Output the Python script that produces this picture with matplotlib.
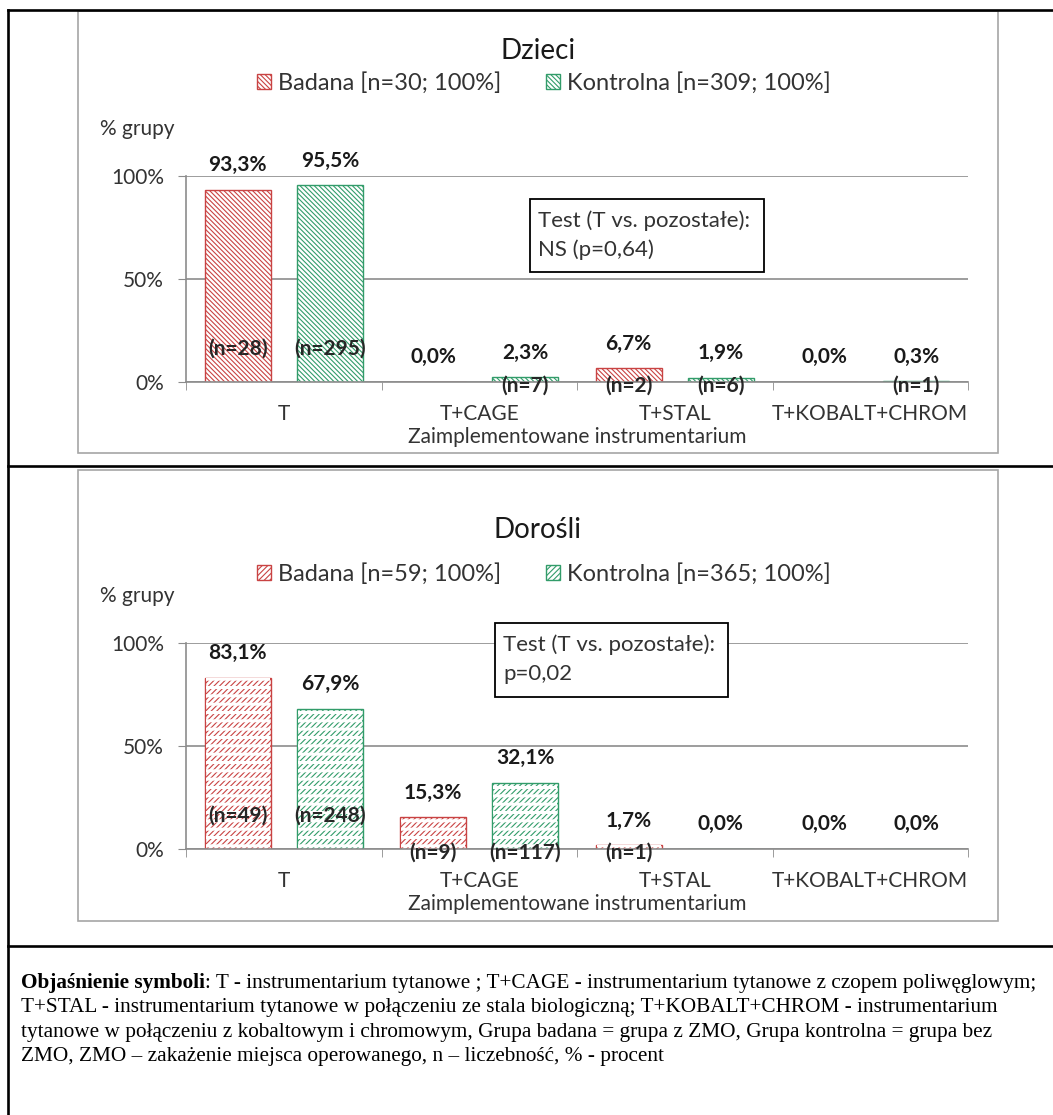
import matplotlib.pyplot as plt
from matplotlib.patches import Rectangle
from matplotlib.lines import Line2D
import numpy as np

# Dane: odsetek pacjentów wg zaimplementowanego instrumentarium
categories = ['T', 'T+CAGE', 'T+STAL', 'T+KOBALT+CHROM']

dzieci_badana = [93.3, 0.0, 6.7, 0.0]
dzieci_kontrolna = [95.5, 2.3, 1.9, 0.3]
dzieci_badana_n = [28, 0, 2, 0]
dzieci_kontrolna_n = [295, 7, 6, 1]

dorosli_badana = [83.1, 15.3, 1.7, 0.0]
dorosli_kontrolna = [67.9, 32.1, 0.0, 0.0]
dorosli_badana_n = [49, 9, 1, 0]
dorosli_kontrolna_n = [248, 117, 0, 0]

yticks = [0, 50, 100]
ytick_labels = ['0%', '50%', '100%']

footnote_bold = 'Objaśnienie symboli'
footnote_lines = [
    ': T - instrumentarium tytanowe ; T+CAGE - instrumentarium tytanowe z czopem poliwęglowym;',
    'T+STAL - instrumentarium tytanowe w połączeniu ze stala biologiczną; T+KOBALT+CHROM - instrumentarium',
    'tytanowe w połączeniu z kobaltowym i chromowym, Grupa badana = grupa z ZMO, Grupa kontrolna = grupa bez',
    'ZMO, ZMO – zakażenie miejsca operowanego, n – liczebność, % - procent',
]

W, H = 1053, 1115
RED = '#C94343'
GREEN = '#329C6A'
GRAY = '#8C8C8C'
FONT = 'Lato'

plt.rcParams['font.family'] = FONT
plt.rcParams['hatch.linewidth'] = 0.8

fig = plt.figure(figsize=(W / 100, H / 100), dpi=100)


def fx(px):
    return px / W


def fy(py):
    return 1 - py / H


def fmt(v):
    return f'{v:.1f}%'.replace('.', ',')


# ramki tabeli
for xs, ys in [([8, W], [10, 10]), ([8, 8], [10, H]),
               ([8, W], [466, 466]), ([8, W], [946, 946])]:
    fig.add_artist(Line2D([fx(x) for x in xs], [fy(y) for y in ys],
                          color='black', lw=1.9, zorder=5))


def panel(frame, y100, title_y, leg_y, title, badana, kontrolna, badana_n, kontrolna_n,
          leg_labels, hatch, dashed, test_lines, box):
    # obszar wykresu (ramka Excela)
    ftop, fbot = frame
    fig.add_artist(Rectangle((fx(78), fy(fbot)), fx(998) - fx(78),
                             fy(ftop) - fy(fbot), transform=fig.transFigure,
                             fc='white', ec='#A6A6A6', lw=1.2, zorder=0))
    y0 = y100 + 206
    ax = fig.add_axes([fx(186), fy(y0), fx(968) - fx(186), fy(y100) - fy(y0)])
    x = np.arange(len(categories))
    off, w = 0.236, 0.338
    b1 = ax.bar(x - off, badana, w, color='white', edgecolor=RED, hatch=hatch,
                lw=1.0, label=leg_labels[0], zorder=3)
    b2 = ax.bar(x + off, kontrolna, w, color='white', edgecolor=GREEN, hatch=hatch,
                lw=1.0, label=leg_labels[1], zorder=3)
    if dashed:
        # białe poziome pasy dzielą ukośne kreski na krótkie odcinki
        with plt.rc_context({'hatch.linewidth': 2.2}):
            for xs, vals in [(x - off, badana), (x + off, kontrolna)]:
                ax.bar(xs, vals, w * 0.97, color='none', edgecolor='white',
                       hatch='--', lw=0, zorder=3.5)
    for xs, vals, ns in [(x - off, badana, badana_n), (x + off, kontrolna, kontrolna_n)]:
        for xi, v, n in zip(xs, vals, ns):
            ax.text(xi, v + 12, fmt(v), ha='center', va='center', fontsize=15,
                    fontweight='bold', color='#1A1A1A', clip_on=False, zorder=5)
            if n > 0:
                ny = 16 if v > 50 else -2
                ax.text(xi, ny, f'(n={n})', ha='center', va='center', fontsize=15,
                        fontweight='bold', color='#262626', clip_on=False, zorder=5)
    ax.set_xlim(-0.5, len(categories) - 0.5)
    ax.set_ylim(0, 100)
    ax.set_yticks(yticks)
    ax.set_yticklabels(ytick_labels)
    ax.set_xticks(x)
    ax.set_xticklabels(categories)
    ax.set_xticks(np.arange(len(categories) + 1) - 0.5, minor=True)
    ax.tick_params(axis='x', which='major', length=0, pad=16, labelsize=15,
                   labelcolor='#333333')
    ax.tick_params(axis='x', which='minor', length=6, color=GRAY, direction='out')
    ax.tick_params(axis='y', length=6, color=GRAY, pad=10, labelsize=15,
                   labelcolor='#333333')
    ax.yaxis.grid(True, color=GRAY, lw=1.2, zorder=0)
    ax.set_axisbelow(True)
    for s in ['top', 'right']:
        ax.spines[s].set_visible(False)
    for s in ['left', 'bottom']:
        ax.spines[s].set_color(GRAY)
        ax.spines[s].set_linewidth(1.2)
    ax.spines['bottom'].set_zorder(4)
    ax.patch.set_alpha(0)

    fig.text(fx(538), fy(title_y), title, ha='center', va='center', fontsize=20,
             color='#1A1A1A')
    fig.text(fx(577), fy(y0 + 55), 'Zaimplementowane instrumentarium', ha='center',
             va='center', fontsize=15, color='#333333')
    fig.text(fx(100), fy(y100 - 47), '% grupy', ha='left', va='center', fontsize=15,
             color='#333333')
    leg = ax.legend(handles=[b1, b2], loc='center', ncol=2, frameon=False,
                    bbox_to_anchor=(fx(544), fy(leg_y)),
                    bbox_transform=fig.transFigure, fontsize=17,
                    handlelength=0.6, handleheight=0.6, handletextpad=0.3,
                    columnspacing=1.9)
    for t in leg.get_texts():
        t.set_color('#333333')

    bx0, bx1, by0, by1 = box
    fig.add_artist(Rectangle((fx(bx0), fy(by1)), fx(bx1) - fx(bx0), fy(by0) - fy(by1),
                             transform=fig.transFigure, fc='white', ec='black',
                             lw=1.3, zorder=4))
    for i, line in enumerate(test_lines):
        fig.text(fx(bx0 + 8), fy(by0 + 22 + 29 * i), line, ha='left', va='center',
                 fontsize=16, color='#333333', zorder=6)
    return ax


panel((11, 453), 176, 51, 83, 'Dzieci',
      dzieci_badana, dzieci_kontrolna, dzieci_badana_n, dzieci_kontrolna_n,
      ['Badana [n=30; 100%]', 'Kontrolna [n=309; 100%]'], '\\' * 7, False,
      ['Test (T vs. pozostałe):', 'NS (p=0,64)'], (530, 764, 199, 272))
panel((470, 921), 643, 530, 574, 'Dorośli',
      dorosli_badana, dorosli_kontrolna, dorosli_badana_n, dorosli_kontrolna_n,
      ['Badana [n=59; 100%]', 'Kontrolna [n=365; 100%]'], '//////', True,
      ['Test (T vs. pozostałe):', 'p=0,02'], (495, 728, 623, 697))

# objaśnienia pod wykresami
fax = fig.add_axes([0, 0, 1, 1])
fax.set_axis_off()
fax.set_xlim(0, W)
fax.set_ylim(H, 0)
for i, line in enumerate(footnote_lines):
    y = 983 + 24.5 * i
    if i == 0:
        t = fax.text(21, y, footnote_bold, ha='left', va='center', fontsize=15.3,
                     family='Liberation Serif', fontweight='bold')
        fax.annotate(line, xy=(1, 0), xycoords=t, ha='left', va='bottom',
                     fontsize=15.3, family='Liberation Serif')
    else:
        fax.text(21, y, line, ha='left', va='center', fontsize=15.3,
                 family='Liberation Serif')

fig.savefig('out.png', dpi=100)
